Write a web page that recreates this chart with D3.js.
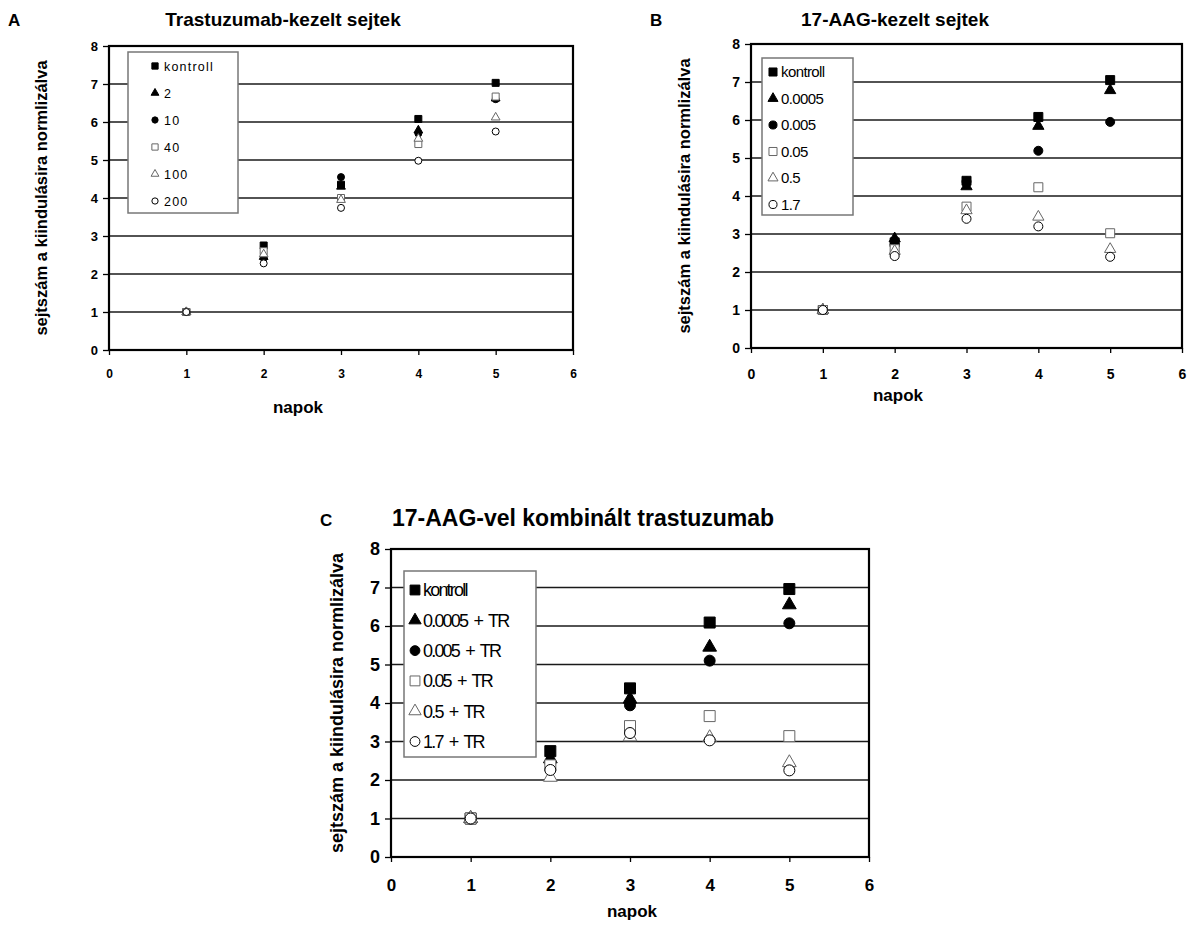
<!DOCTYPE html>
<html>
<head>
<meta charset="utf-8">
<script src="https://cdn.jsdelivr.net/npm/d3@7"></script>
<style>
  body { margin: 0; background: #fff; }
  text { font-family: "Liberation Sans", Arial, sans-serif; fill: #000; }
</style>
</head>
<body>
<div id="chart"></div>
<script>
// Data
const days = [1, 2, 3, 4, 5];
const xTicks = [0, 1, 2, 3, 4, 5, 6];
const yTicks = [0, 1, 2, 3, 4, 5, 6, 7, 8];

// A: trastuzumab
const seriesNamesA = ["kontroll", "2", "10", "40", "100", "200"];
const kontrollA = [1, 2.75, 4.35, 6.08, 7.03];
const tr2 = [1, 2.45, 4.3, 5.78, 6.62];
const tr10 = [1, 2.42, 4.55, 5.7, 6.6];
const tr40 = [1, 2.6, 4.0, 5.42, 6.67];
const tr100 = [1, 2.52, 3.95, 5.56, 6.12];
const tr200 = [1, 2.28, 3.74, 4.98, 5.75];

// B: 17-AAG
const seriesNamesB = ["kontroll", "0.0005", "0.005", "0.05", "0.5", "1.7"];
const kontrollB = [1, 2.78, 4.4, 6.08, 7.05];
const aag00005 = [1, 2.88, 4.25, 5.84, 6.78];
const aag0005 = [1, 2.72, 4.38, 5.19, 5.95];
const aag005 = [1, 2.6, 3.72, 4.23, 3.02];
const aag05 = [1, 2.55, 3.62, 3.45, 2.6];
const aag17 = [1, 2.42, 3.4, 3.2, 2.4];

// C: 17-AAG + trastuzumab
const seriesNamesC = ["kontroll", "0.0005 + TR", "0.005 + TR", "0.05 + TR", "0.5 + TR", "1.7 + TR"];
const kontrollC = [1, 2.75, 4.38, 6.09, 6.96];
const comb00005 = [1, 2.55, 4.1, 5.45, 6.55];
const comb0005 = [1, 2.45, 3.94, 5.1, 6.07];
const comb005 = [1, 2.38, 3.4, 3.66, 3.14];
const comb05 = [1, 2.07, 3.12, 3.1, 2.45];
const comb17 = [1, 2.26, 3.22, 3.03, 2.25];

// marker styles, one per series position
const markers = [
    { type: d3.symbolSquare, fill: "#000", stroke: "#000" },
    { type: d3.symbolTriangle, fill: "#000", stroke: "#000" },
    { type: d3.symbolCircle, fill: "#000", stroke: "#000" },
    { type: d3.symbolSquare, fill: "#fff", stroke: "#666" },
    { type: d3.symbolTriangle, fill: "#fff", stroke: "#666" },
    { type: d3.symbolCircle, fill: "#fff", stroke: "#000" }
];

const svg = d3.select("#chart")
    .append("svg")
    .attr("width", 1196)
    .attr("height", 931);

const panels = [
    {
        letter: "A", title: "Trastuzumab-kezelt sejtek",
        names: seriesNamesA, values: [kontrollA, tr2, tr10, tr40, tr100, tr200],
        left: 109, right: 573, top: 46, bottom: 350,
        letterX: 8, titleX: 283, titleY: 26, titleSize: 19,
        tickSize: 13, xTickSize: 12, xPad: 14, napokX: 298, napokY: 413, yLabelX: 47, labelSize: 16.5,
        msize: 7,
        legend: { x: 128, y: 52, w: 110, h: 161, rowY: 66, step: 27, mx: 155, tx: 164, size: 12.5, spacing: 1.2, word: 0 }
    },
    {
        letter: "B", title: "17-AAG-kezelt sejtek",
        names: seriesNamesB, values: [kontrollB, aag00005, aag0005, aag005, aag05, aag17],
        left: 751, right: 1182, top: 44, bottom: 348,
        letterX: 650, titleX: 895, titleY: 26, titleSize: 19,
        tickSize: 14, xTickSize: 14, xPad: 16, napokX: 898, napokY: 401, yLabelX: 690, labelSize: 16.5,
        msize: 9,
        legend: { x: 762, y: 58, w: 91, h: 157, rowY: 72, step: 26.5, mx: 773, tx: 781, size: 15, spacing: -0.6, word: 0 }
    },
    {
        letter: "C", title: "17-AAG-vel kombinált trastuzumab",
        names: seriesNamesC, values: [kontrollC, comb00005, comb0005, comb005, comb05, comb17],
        left: 391, right: 869, top: 549, bottom: 857,
        letterX: 320, titleX: 583, titleY: 526, titleSize: 23,
        tickSize: 18, xTickSize: 17, xPad: 17, napokX: 632, napokY: 917, yLabelX: 343, labelSize: 18,
        msize: 11,
        legend: { x: 404, y: 571, w: 132, h: 186, rowY: 590, step: 30.3, mx: 415, tx: 423, size: 18, spacing: -1.8, word: 3 }
    }
];

panels.forEach(p => {
    const x = d3.scaleLinear().domain([0, 6]).range([p.left, p.right]);
    const y = d3.scaleLinear().domain([0, 8]).range([p.bottom, p.top]);
    const g = svg.append("g");

    // Panel letter and title
    g.append("text")
        .attr("x", p.letterX)
        .attr("y", p.titleY)
        .style("font-size", "17px")
        .style("font-weight", "bold")
        .text(p.letter);

    g.append("text")
        .attr("x", p.titleX)
        .attr("y", p.titleY)
        .attr("text-anchor", "middle")
        .style("font-size", p.titleSize + "px")
        .style("font-weight", "bold")
        .text(p.title);

    // Gridlines
    g.selectAll(".grid")
        .data(yTicks.filter(t => t > 0 && t < 8))
        .join("line")
        .attr("x1", p.left)
        .attr("x2", p.right)
        .attr("y1", d => y(d))
        .attr("y2", d => y(d))
        .attr("stroke", "#1a1a1a")
        .attr("stroke-width", 1.5);

    // Plot frame
    g.append("rect")
        .attr("x", p.left)
        .attr("y", p.top)
        .attr("width", p.right - p.left)
        .attr("height", p.bottom - p.top)
        .attr("fill", "none")
        .attr("stroke", "#000")
        .attr("stroke-width", 2.2);

    // Axes
    const yAxis = g.append("g")
        .attr("transform", `translate(${p.left},0)`)
        .call(d3.axisLeft(y).tickValues(yTicks).tickSize(6).tickPadding(5).tickFormat(d3.format("d")));
    yAxis.select(".domain").remove();
    yAxis.selectAll("line").attr("stroke", "#000").attr("stroke-width", 1.3);
    yAxis.selectAll("text")
        .style("font-size", p.tickSize + "px")
        .style("font-weight", "bold")
        .style("font-family", "Liberation Sans, Arial, sans-serif");

    const xAxis = g.append("g")
        .attr("transform", `translate(0,${p.bottom})`)
        .call(d3.axisBottom(x).tickValues(xTicks).tickSize(5).tickPadding(p.xPad).tickFormat(d3.format("d")));
    xAxis.select(".domain").remove();
    xAxis.selectAll("line").attr("stroke", "#000").attr("stroke-width", 1.3);
    xAxis.selectAll("text")
        .style("font-size", p.xTickSize + "px")
        .style("font-weight", "bold")
        .style("font-family", "Liberation Sans, Arial, sans-serif");

    // Axis labels
    g.append("text")
        .attr("x", p.napokX)
        .attr("y", p.napokY)
        .attr("text-anchor", "middle")
        .style("font-size", "17px")
        .style("font-weight", "bold")
        .text("napok");

    g.append("text")
        .attr("transform", `translate(${p.yLabelX},${(p.top + p.bottom) / 2}) rotate(-90)`)
        .attr("text-anchor", "middle")
        .style("font-size", p.labelSize + "px")
        .style("font-weight", "bold")
        .text("sejtszám a kiindulásira normlizálva");

    // Legend
    const L = p.legend;
    g.append("rect")
        .attr("x", L.x)
        .attr("y", L.y)
        .attr("width", L.w)
        .attr("height", L.h)
        .attr("fill", "#fff")
        .attr("stroke", "#777")
        .attr("stroke-width", 1.5);

    p.names.forEach((name, i) => {
        const m = markers[i];
        const s = i === 1 || i === 4 ? p.msize * 1.25 : p.msize;
        const area = m.type === d3.symbolCircle ? Math.PI * (s / 2) * (s / 2)
            : m.type === d3.symbolTriangle ? s * s * 0.433 : s * s;
        const ly = L.rowY + i * L.step;
        g.append("path")
            .attr("transform", `translate(${L.mx},${ly})`)
            .attr("d", d3.symbol().type(m.type).size(area * 0.8)())
            .attr("fill", m.fill)
            .attr("stroke", m.stroke)
            .attr("stroke-width", 1);
        g.append("text")
            .attr("x", L.tx)
            .attr("y", ly)
            .attr("dy", "0.36em")
            .style("font-size", L.size + "px")
            .style("letter-spacing", L.spacing + "px")
            .style("word-spacing", L.word + "px")
            .text(name);
    });

    // Points
    p.values.forEach((vals, i) => {
        const m = markers[i];
        const s = i === 1 || i === 4 ? p.msize * 1.25 : p.msize;
        const area = m.type === d3.symbolCircle ? Math.PI * (s / 2) * (s / 2)
            : m.type === d3.symbolTriangle ? s * s * 0.433 : s * s;
        g.selectAll(".pt" + i)
            .data(days.map((d, j) => ({ day: d, value: vals[j] })))
            .join("path")
            .attr("transform", d => `translate(${x(d.day)},${y(d.value)})`)
            .attr("d", d3.symbol().type(m.type).size(area)())
            .attr("fill", m.fill)
            .attr("stroke", m.stroke)
            .attr("stroke-width", 1);
    });
});
</script>
</body>
</html>
